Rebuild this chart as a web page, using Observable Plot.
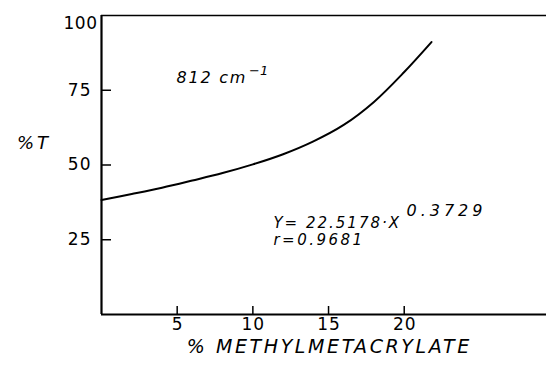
<!DOCTYPE html>
<html>
<head>
<meta charset="utf-8">
<script src="https://cdn.jsdelivr.net/npm/d3@7"></script>
<script src="https://cdn.jsdelivr.net/npm/@observablehq/plot@0.6"></script>
<style>
  html, body { margin: 0; padding: 0; background: #fff; }
  #chart svg { display: block; }
</style>
</head>
<body>
<div id="chart"></div>
<script>
// Data
const methylPct = [0, 2, 4, 6, 8, 10, 12, 14, 16, 18, 20, 21.8];
const transmittance = [38.3, 40.3, 42.4, 44.8, 47.3, 50.2, 53.6, 57.9, 63.4, 71.1, 81.1, 91.1];
const xTicks = [5, 10, 15, 20];
const yTicks = [25, 50, 75];
const yTopTick = [100];
const xTitle = "% METHYLMETACRYLATE";
const yTitle = "%T";
const bandLabel = "812 cm";
const bandExp = "\u22121";
const fitEq = "Y= 22.5178\u00b7X";
const fitExp = "0.3729";
const fitR = "r=0.9681";

const data = methylPct.map((x, i) => ({x, y: transmittance[i]}));

const W = 546, H = 367;
const mL = 101, mR = 0, mT = 15, mB = 53;
const innerW = W - mL - mR, innerH = H - mT - mB;
const font = "DejaVu Sans, Liberation Sans, sans-serif";

// letter-spacing per text (applied after rendering; Plot.text has no such option)
const spacing = new Map([
  ["5", 1], ["10", 1], ["15", 1], ["20", 1],
  ["25", 1], ["50", 1], ["75", 1], ["100", 0.5],
  [xTitle, 2.6], [yTitle, 3], [bandLabel, 1.8],
  [fitEq, 2], [fitExp, 4], [fitR, 2.5]
]);

const chart = Plot.plot({
  width: W,
  height: H,
  marginLeft: mL,
  marginRight: mR,
  marginTop: mT,
  marginBottom: mB,
  style: {fontFamily: font, background: "#fff", color: "#000", overflow: "visible"},
  x: {domain: [0, 29.4], axis: null},
  y: {domain: [0, 100], axis: null},
  marks: [
    // frame lines
    Plot.ruleX([0], {stroke: "#000", strokeWidth: 2.2}),
    Plot.ruleY([0], {stroke: "#000", strokeWidth: 2.2}),
    Plot.ruleY([100], {stroke: "#000", strokeWidth: 1.6}),
    // inward ticks
    Plot.ruleX(xTicks, {x: d => d, stroke: "#000", strokeWidth: 1.5, insetTop: innerH - 8}),
    Plot.ruleY(yTicks, {y: d => d, stroke: "#000", strokeWidth: 1.5, insetRight: innerW - 10}),
    // tick labels
    Plot.text(xTicks, {x: d => d, y: 0, text: d => String(d), dy: 10, dx: 0.5, lineAnchor: "middle", fontSize: 17, fill: "#000"}),
    Plot.text(yTicks, {x: 0, y: d => d, text: d => String(d), dx: -10, textAnchor: "end", lineAnchor: "middle", fontSize: 17, fill: "#000"}),
    Plot.text(yTopTick, {x: 0, y: d => d, text: d => String(d), dx: -4, dy: 8, textAnchor: "end", lineAnchor: "middle", fontSize: 17, fill: "#000"}),
    // axis titles
    Plot.text([xTitle], {x: 14.96, y: -11, dx: 1.3, text: d => d, lineAnchor: "middle", fontSize: 19, fontStyle: "italic", fill: "#000"}),
    Plot.text([yTitle], {x: -4.56, y: 57.3, dx: 1.5, text: d => d, lineAnchor: "middle", fontSize: 18, fontStyle: "italic", fill: "#000"}),
    // curve
    Plot.line(data, {x: "x", y: "y", curve: "catmull-rom", stroke: "#000", strokeWidth: 2}),
    // annotations
    Plot.text([bandLabel], {x: 4.95, y: 77.3, text: d => d, textAnchor: "start", lineAnchor: "bottom", fontSize: 16, fontStyle: "italic", fill: "#000"}),
    Plot.text([bandExp], {x: 9.75, y: 80, text: d => d, textAnchor: "start", lineAnchor: "bottom", fontSize: 13, fontStyle: "italic", fill: "#000"}),
    Plot.text([fitEq], {x: 11.36, y: 29, text: d => d, textAnchor: "start", lineAnchor: "bottom", fontSize: 15, fontStyle: "italic", fill: "#000"}),
    Plot.text([fitExp], {x: 20.15, y: 32.8, text: d => d, textAnchor: "start", lineAnchor: "bottom", fontSize: 16, fontStyle: "italic", fill: "#000"}),
    Plot.text([fitR], {x: 11.36, y: 23.3, text: d => d, textAnchor: "start", lineAnchor: "bottom", fontSize: 15, fontStyle: "italic", fill: "#000"})
  ]
});

chart.querySelectorAll("text").forEach(t => {
  const ls = spacing.get(t.textContent);
  if (ls != null) t.setAttribute("letter-spacing", ls);
});

document.getElementById("chart").appendChild(chart);
</script>
</body>
</html>
